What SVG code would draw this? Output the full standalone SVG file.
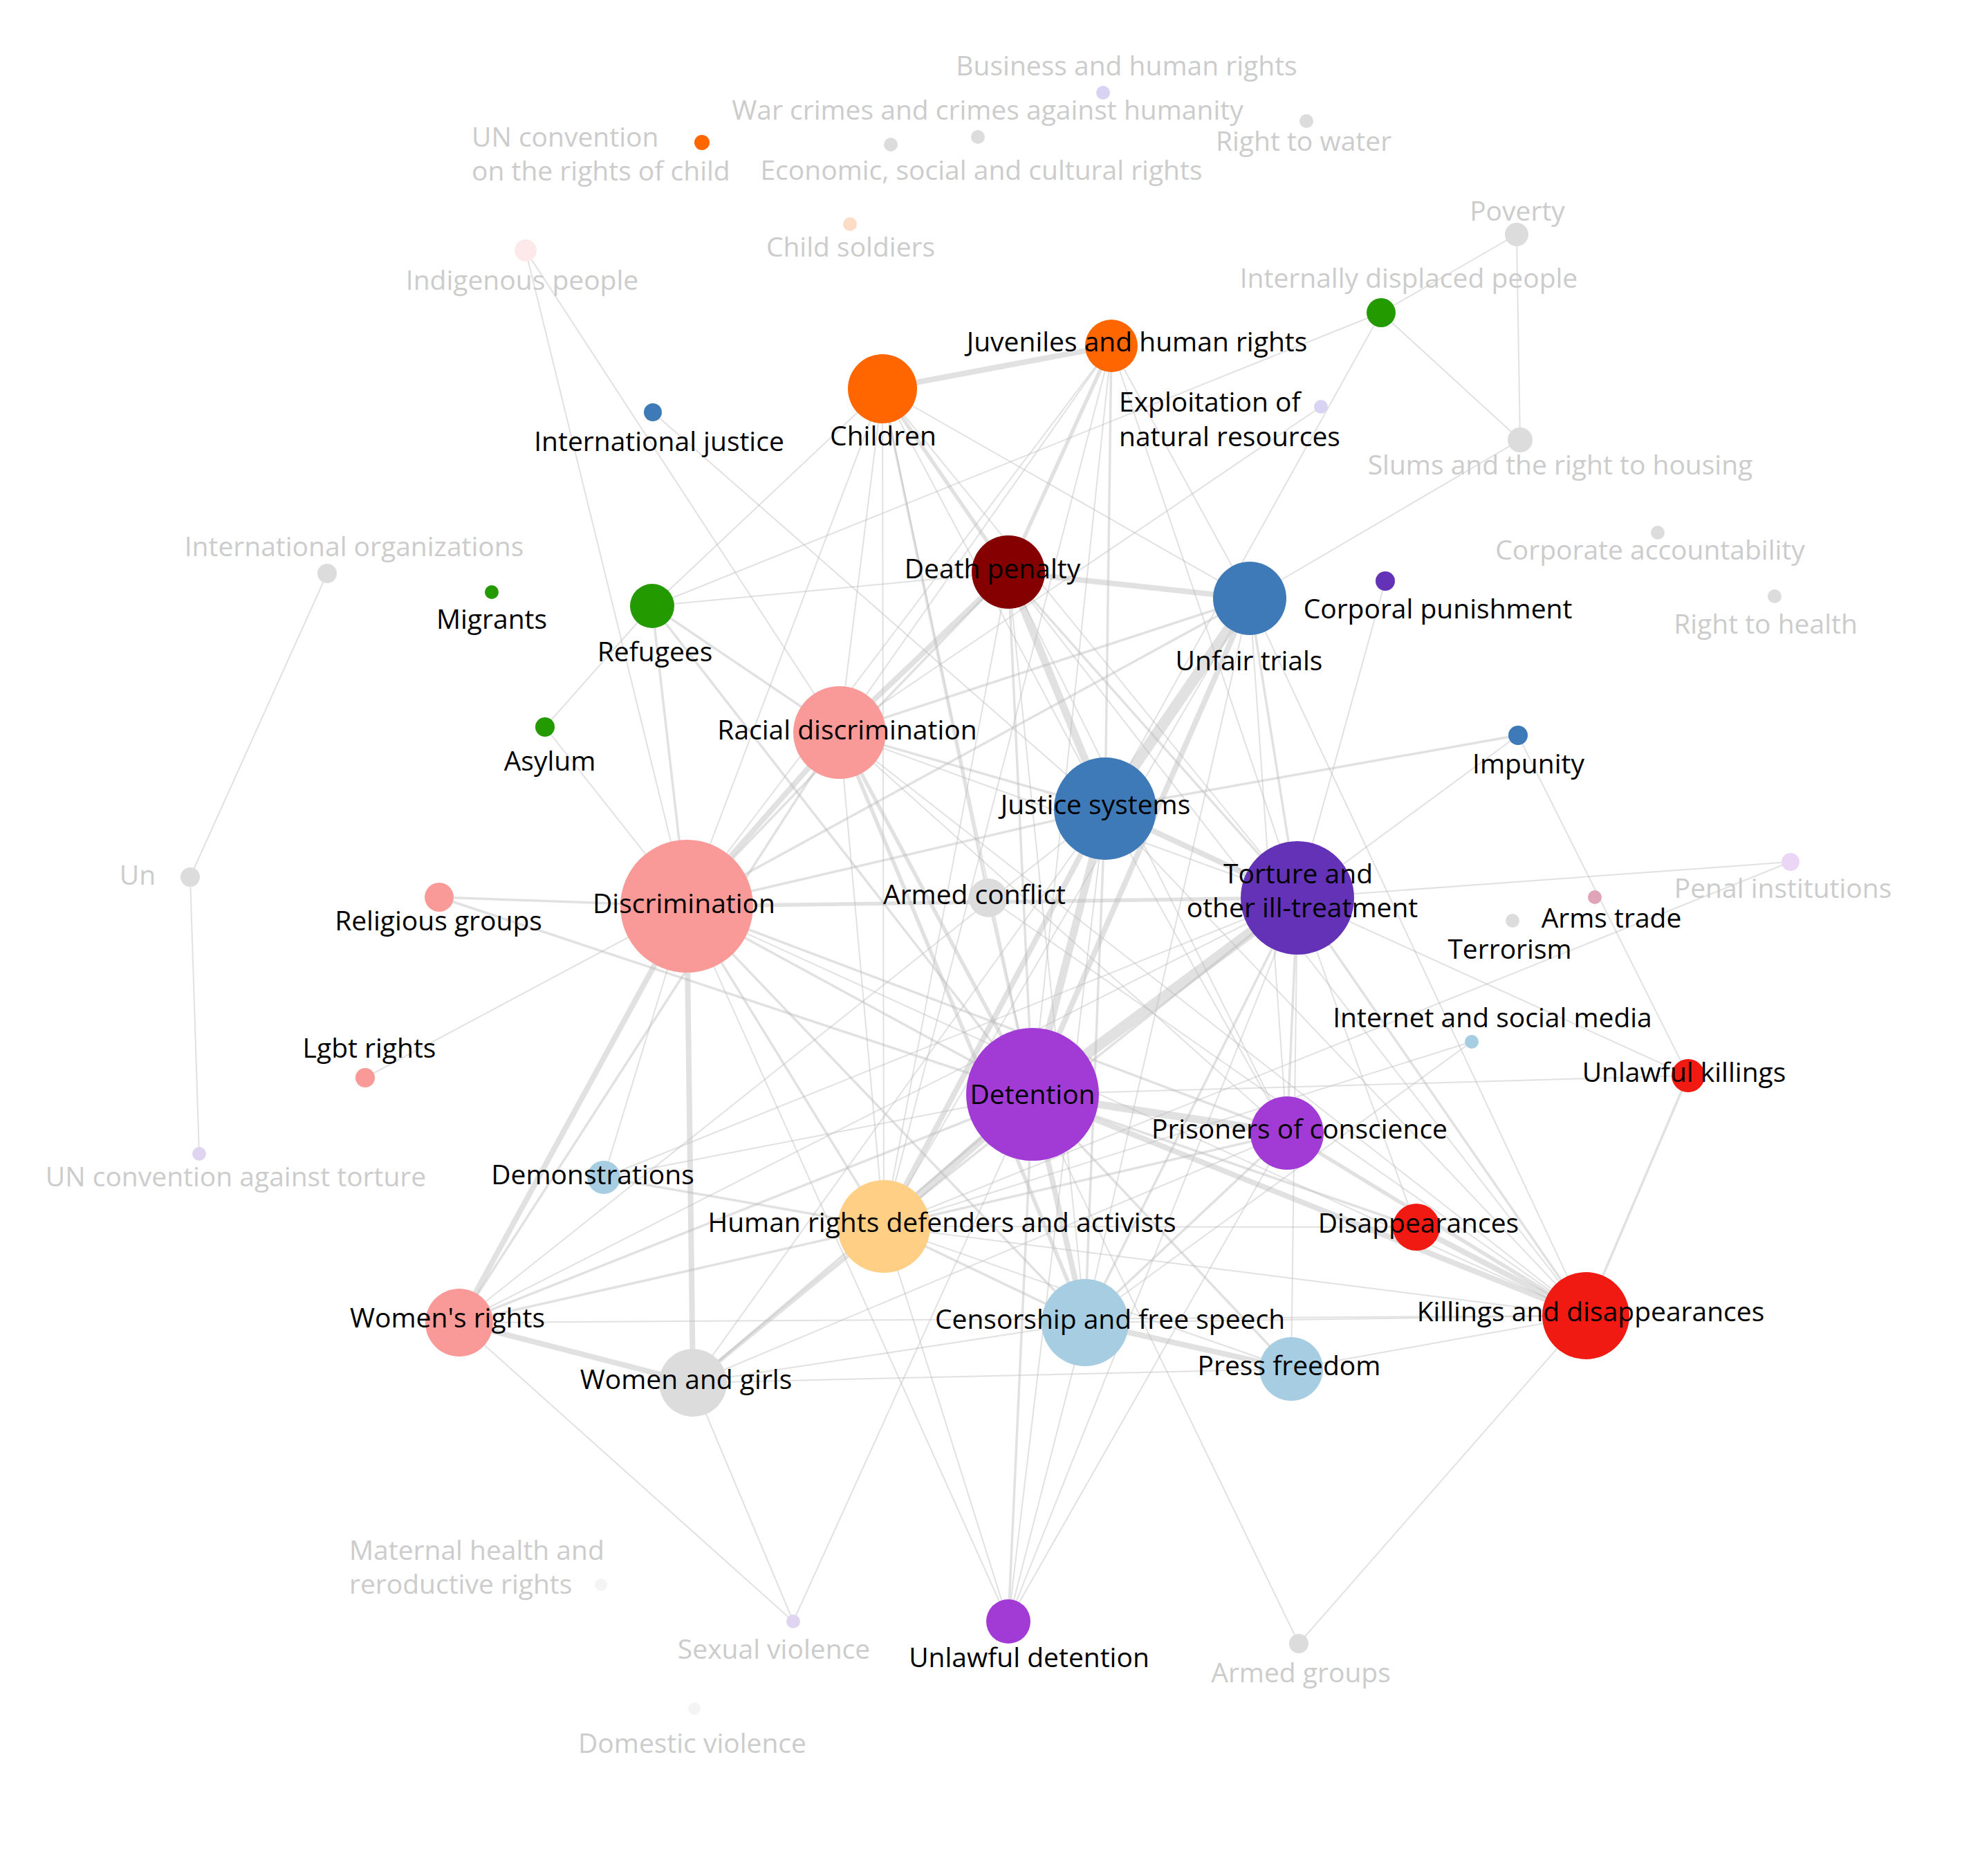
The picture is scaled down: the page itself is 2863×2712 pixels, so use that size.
<svg xmlns="http://www.w3.org/2000/svg" width="2863" height="2712" viewBox="0 0 2863 2712">
<style>
text{font-family:"Open Sans","Noto Sans",sans-serif;font-size:39px;text-anchor:middle}
.k{fill:#000}
.g{fill:#cccccc}
.s{text-anchor:start}
#edges line{stroke:#bdbdbd;stroke-opacity:.45;stroke-linecap:butt}
.e1{stroke-width:2}
.e2{stroke-width:3.5}
.e3{stroke-width:5.5}
.e4{stroke-width:8}
.e5{stroke-width:11}
.e6{stroke-width:16}
</style>
<rect width="2863" height="2712" fill="#fff"/>
<g id="edges">
<line class="e6" x1="1876" y1="1298" x2="1493" y2="1582"/>
<line class="e6" x1="1807" y1="865" x2="1598" y2="1169"/>
<line class="e5" x1="1278" y1="1773" x2="1493" y2="1582"/>
<line class="e5" x1="1598" y1="1169" x2="1493" y2="1582"/>
<line class="e5" x1="1458" y1="827" x2="1598" y2="1169"/>
<line class="e5" x1="1493" y1="1582" x2="1861" y2="1638"/>
<line class="e4" x1="1458" y1="827" x2="1807" y2="865"/>
<line class="e4" x1="1458" y1="827" x2="1214" y2="1059"/>
<line class="e4" x1="1276" y1="562" x2="1607" y2="500"/>
<line class="e4" x1="1493" y1="1582" x2="1569" y2="1912"/>
<line class="e4" x1="1493" y1="1582" x2="2293" y2="1902"/>
<line class="e4" x1="1807" y1="865" x2="1493" y2="1582"/>
<line class="e4" x1="1598" y1="1169" x2="1876" y2="1298"/>
<line class="e4" x1="993" y1="1310" x2="1214" y2="1059"/>
<line class="e4" x1="993" y1="1310" x2="664" y2="1912"/>
<line class="e4" x1="993" y1="1310" x2="1002" y2="1999"/>
<line class="e4" x1="664" y1="1912" x2="1002" y2="1999"/>
<line class="e4" x1="1278" y1="1773" x2="1598" y2="1169"/>
<line class="e4" x1="1569" y1="1912" x2="1867" y2="1979"/>
<line class="e4" x1="2293" y1="1902" x2="2048" y2="1774"/>
<line class="e3" x1="1607" y1="500" x2="1458" y2="827"/>
<line class="e3" x1="993" y1="1310" x2="1876" y2="1298"/>
<line class="e3" x1="1278" y1="1773" x2="1002" y2="1999"/>
<line class="e3" x1="1861" y1="1638" x2="2293" y2="1902"/>
<line class="e3" x1="1214" y1="1059" x2="1569" y2="1912"/>
<line class="e3" x1="1214" y1="1059" x2="1493" y2="1582"/>
<line class="e3" x1="1276" y1="562" x2="1458" y2="827"/>
<line class="e2" x1="1276" y1="562" x2="1429" y2="1298"/>
<line class="e2" x1="1607" y1="500" x2="1598" y2="1169"/>
<line class="e2" x1="943" y1="876" x2="993" y2="1310"/>
<line class="e2" x1="943" y1="876" x2="1214" y2="1059"/>
<line class="e2" x1="943" y1="876" x2="1493" y2="1582"/>
<line class="e2" x1="635" y1="1297" x2="993" y2="1310"/>
<line class="e2" x1="635" y1="1297" x2="1493" y2="1582"/>
<line class="e2" x1="664" y1="1912" x2="1278" y2="1773"/>
<line class="e2" x1="664" y1="1912" x2="1493" y2="1582"/>
<line class="e2" x1="664" y1="1912" x2="1214" y2="1059"/>
<line class="e2" x1="1429" y1="1298" x2="1493" y2="1582"/>
<line class="e2" x1="1493" y1="1582" x2="1458" y2="2344"/>
<line class="e2" x1="2293" y1="1902" x2="2441" y2="1555"/>
<line class="e2" x1="2195" y1="1063" x2="1598" y2="1169"/>
<line class="e2" x1="1807" y1="865" x2="1876" y2="1298"/>
<line class="e2" x1="1807" y1="865" x2="1214" y2="1059"/>
<line class="e2" x1="993" y1="1310" x2="1493" y2="1582"/>
<line class="e2" x1="993" y1="1310" x2="1278" y2="1773"/>
<line class="e2" x1="993" y1="1310" x2="1598" y2="1169"/>
<line class="e2" x1="993" y1="1310" x2="1569" y2="1912"/>
<line class="e2" x1="993" y1="1310" x2="1861" y2="1638"/>
<line class="e2" x1="993" y1="1310" x2="1458" y2="827"/>
<line class="e2" x1="993" y1="1310" x2="1807" y2="865"/>
<line class="e2" x1="1598" y1="1169" x2="1569" y2="1912"/>
<line class="e2" x1="1598" y1="1169" x2="1214" y2="1059"/>
<line class="e2" x1="1876" y1="1298" x2="1569" y2="1912"/>
<line class="e2" x1="1876" y1="1298" x2="1278" y2="1773"/>
<line class="e2" x1="1876" y1="1298" x2="1861" y2="1638"/>
<line class="e2" x1="1876" y1="1298" x2="2293" y2="1902"/>
<line class="e2" x1="1861" y1="1638" x2="1569" y2="1912"/>
<line class="e2" x1="1861" y1="1638" x2="1278" y2="1773"/>
<line class="e2" x1="1278" y1="1773" x2="1569" y2="1912"/>
<line class="e2" x1="1458" y1="827" x2="1493" y2="1582"/>
<line class="e2" x1="1458" y1="827" x2="1876" y2="1298"/>
<line class="e2" x1="2048" y1="1774" x2="1493" y2="1582"/>
<line class="e2" x1="1867" y1="1979" x2="1493" y2="1582"/>
<line class="e2" x1="873" y1="1702" x2="1278" y2="1773"/>
<line class="e2" x1="1002" y1="1999" x2="1493" y2="1582"/>
<line class="e1" x1="473" y1="829" x2="275" y2="1268"/>
<line class="e1" x1="275" y1="1268" x2="288" y2="1668"/>
<line class="e1" x1="760" y1="362" x2="993" y2="1310"/>
<line class="e1" x1="760" y1="362" x2="1214" y2="1059"/>
<line class="e1" x1="944" y1="596" x2="1598" y2="1169"/>
<line class="e1" x1="943" y1="876" x2="1458" y2="827"/>
<line class="e1" x1="943" y1="876" x2="1276" y2="562"/>
<line class="e1" x1="943" y1="876" x2="788" y2="1051"/>
<line class="e1" x1="788" y1="1051" x2="993" y2="1310"/>
<line class="e1" x1="528" y1="1558" x2="993" y2="1310"/>
<line class="e1" x1="664" y1="1912" x2="2293" y2="1902"/>
<line class="e1" x1="664" y1="1912" x2="1147" y2="2344"/>
<line class="e1" x1="1002" y1="1999" x2="1147" y2="2344"/>
<line class="e1" x1="1147" y1="2344" x2="1493" y2="1582"/>
<line class="e1" x1="1458" y1="2344" x2="993" y2="1310"/>
<line class="e1" x1="1458" y1="2344" x2="1278" y2="1773"/>
<line class="e1" x1="1458" y1="2344" x2="1569" y2="1912"/>
<line class="e1" x1="1458" y1="2344" x2="1876" y2="1298"/>
<line class="e1" x1="1458" y1="2344" x2="1861" y2="1638"/>
<line class="e1" x1="1458" y1="2344" x2="1598" y2="1169"/>
<line class="e1" x1="1878" y1="2376" x2="2293" y2="1902"/>
<line class="e1" x1="1878" y1="2376" x2="1493" y2="1582"/>
<line class="e1" x1="1276" y1="562" x2="993" y2="1310"/>
<line class="e1" x1="1276" y1="562" x2="1214" y2="1059"/>
<line class="e1" x1="1276" y1="562" x2="1278" y2="1773"/>
<line class="e1" x1="1276" y1="562" x2="1807" y2="865"/>
<line class="e1" x1="1276" y1="562" x2="1876" y2="1298"/>
<line class="e1" x1="1276" y1="562" x2="1493" y2="1582"/>
<line class="e1" x1="1276" y1="562" x2="1598" y2="1169"/>
<line class="e1" x1="1607" y1="500" x2="1807" y2="865"/>
<line class="e1" x1="1607" y1="500" x2="1876" y2="1298"/>
<line class="e1" x1="1607" y1="500" x2="1214" y2="1059"/>
<line class="e1" x1="1607" y1="500" x2="993" y2="1310"/>
<line class="e1" x1="1607" y1="500" x2="1493" y2="1582"/>
<line class="e1" x1="1607" y1="500" x2="1278" y2="1773"/>
<line class="e1" x1="1458" y1="827" x2="1278" y2="1773"/>
<line class="e1" x1="1458" y1="827" x2="1861" y2="1638"/>
<line class="e1" x1="1458" y1="827" x2="2293" y2="1902"/>
<line class="e1" x1="1458" y1="827" x2="1569" y2="1912"/>
<line class="e1" x1="1807" y1="865" x2="1278" y2="1773"/>
<line class="e1" x1="1807" y1="865" x2="1861" y2="1638"/>
<line class="e1" x1="1807" y1="865" x2="2293" y2="1902"/>
<line class="e1" x1="1807" y1="865" x2="1569" y2="1912"/>
<line class="e1" x1="1807" y1="865" x2="2198" y2="636"/>
<line class="e1" x1="1997" y1="452" x2="2193" y2="339"/>
<line class="e1" x1="1997" y1="452" x2="2198" y2="636"/>
<line class="e1" x1="2193" y1="339" x2="2198" y2="636"/>
<line class="e1" x1="1997" y1="452" x2="943" y2="876"/>
<line class="e1" x1="1997" y1="452" x2="1598" y2="1169"/>
<line class="e1" x1="1910" y1="588" x2="1214" y2="1059"/>
<line class="e1" x1="2003" y1="840" x2="1876" y2="1298"/>
<line class="e1" x1="2195" y1="1063" x2="2441" y2="1555"/>
<line class="e1" x1="2195" y1="1063" x2="1876" y2="1298"/>
<line class="e1" x1="2589" y1="1246" x2="1876" y2="1298"/>
<line class="e1" x1="2589" y1="1246" x2="1278" y2="1773"/>
<line class="e1" x1="2128" y1="1506" x2="1569" y2="1912"/>
<line class="e1" x1="2128" y1="1506" x2="1278" y2="1773"/>
<line class="e1" x1="2441" y1="1555" x2="1876" y2="1298"/>
<line class="e1" x1="2441" y1="1555" x2="1493" y2="1582"/>
<line class="e1" x1="2293" y1="1902" x2="1598" y2="1169"/>
<line class="e1" x1="2293" y1="1902" x2="1278" y2="1773"/>
<line class="e1" x1="2293" y1="1902" x2="1569" y2="1912"/>
<line class="e1" x1="2293" y1="1902" x2="1867" y2="1979"/>
<line class="e1" x1="2048" y1="1774" x2="1278" y2="1773"/>
<line class="e1" x1="2048" y1="1774" x2="1876" y2="1298"/>
<line class="e1" x1="1876" y1="1298" x2="1867" y2="1979"/>
<line class="e1" x1="1861" y1="1638" x2="1598" y2="1169"/>
<line class="e1" x1="1861" y1="1638" x2="1002" y2="1999"/>
<line class="e1" x1="1598" y1="1169" x2="1002" y2="1999"/>
<line class="e1" x1="1214" y1="1059" x2="1278" y2="1773"/>
<line class="e1" x1="1876" y1="1298" x2="664" y2="1912"/>
<line class="e1" x1="1876" y1="1298" x2="1214" y2="1059"/>
<line class="e1" x1="873" y1="1702" x2="1493" y2="1582"/>
<line class="e1" x1="873" y1="1702" x2="1876" y2="1298"/>
<line class="e1" x1="873" y1="1702" x2="993" y2="1310"/>
<line class="e1" x1="1429" y1="1298" x2="2293" y2="1902"/>
<line class="e1" x1="1002" y1="1999" x2="1867" y2="1979"/>
<line class="e1" x1="664" y1="1912" x2="1598" y2="1169"/>
<line class="e1" x1="1569" y1="1912" x2="1002" y2="1999"/>
<line class="e1" x1="1867" y1="1979" x2="1278" y2="1773"/>
<line class="e1" x1="1214" y1="1059" x2="1861" y2="1638"/>
<line class="e1" x1="1214" y1="1059" x2="2293" y2="1902"/>
<line class="e1" x1="993" y1="1310" x2="2293" y2="1902"/>
</g>
<g id="n-business"><circle cx="1595" cy="134" r="10" fill="#d9d3f3"/><text class="g" x="1629" y="109">Business and human rights</text></g>
<g id="n-warcrimes"><circle cx="1414" cy="198" r="10" fill="#dcdcdc"/><text class="g" x="1428" y="173">War crimes and crimes against humanity</text></g>
<g id="n-economic"><circle cx="1288" cy="209" r="10" fill="#dcdcdc"/><text class="g" x="1419" y="260">Economic, social and cultural rights</text></g>
<g id="n-water"><circle cx="1889" cy="175" r="10" fill="#dcdcdc"/><text class="g" x="1885" y="218">Right to water</text></g>
<g id="n-uncrc"><circle cx="1015" cy="206" r="11" fill="#ff6600"/><text class="g s" x="682" y="212">UN convention</text><text class="g s" x="682" y="261">on the rights of child</text></g>
<g id="n-childsoldiers"><circle cx="1229" cy="324" r="10" fill="#fddcc6"/><text class="g" x="1230" y="371">Child soldiers</text></g>
<g id="n-indigenous"><circle cx="760" cy="362" r="16" fill="#fde9ea"/><text class="g" x="755" y="419">Indigenous people</text></g>
<g id="n-poverty"><circle cx="2193" cy="339" r="17" fill="#dcdcdc"/><text class="g" x="2194" y="319">Poverty</text></g>
<g id="n-idp"><circle cx="1997" cy="452" r="21" fill="#239a00"/><text class="g" x="2037" y="416">Internally displaced people</text></g>
<g id="n-juveniles"><circle cx="1607" cy="500" r="38" fill="#ff6600"/><text class="k" x="1644" y="508">Juveniles and human rights</text></g>
<g id="n-children"><circle cx="1276" cy="562" r="50" fill="#ff6600"/><text class="k" x="1277" y="644">Children</text></g>
<g id="n-intjustice"><circle cx="944" cy="596" r="13" fill="#3d7ab7"/><text class="k" x="953" y="652">International justice</text></g>
<g id="n-exploitation"><circle cx="1910" cy="588" r="10" fill="#d9d3f3"/><text class="k s" x="1618" y="595">Exploitation of</text><text class="k s" x="1618" y="645">natural resources</text></g>
<g id="n-slums"><circle cx="2198" cy="636" r="18" fill="#dcdcdc"/><text class="g" x="2256" y="686">Slums and the right to housing</text></g>
<g id="n-corpacc"><circle cx="2397" cy="770" r="10" fill="#dcdcdc"/><text class="g" x="2386" y="809">Corporate accountability</text></g>
<g id="n-health"><circle cx="2566" cy="862" r="10" fill="#dcdcdc"/><text class="g" x="2553" y="916">Right to health</text></g>
<g id="n-intorg"><circle cx="473" cy="829" r="14" fill="#dcdcdc"/><text class="g" x="512" y="804">International organizations</text></g>
<g id="n-migrants"><circle cx="711" cy="856" r="10" fill="#239a00"/><text class="k" x="711" y="909">Migrants</text></g>
<g id="n-refugees"><circle cx="943" cy="876" r="32" fill="#239a00"/><text class="k" x="947" y="956">Refugees</text></g>
<g id="n-death"><circle cx="1458" cy="827" r="53" fill="#850000"/><text class="k" x="1435" y="836">Death penalty</text></g>
<g id="n-unfair"><circle cx="1807" cy="865" r="53" fill="#3d7ab7"/><text class="k" x="1806" y="969">Unfair trials</text></g>
<g id="n-corporal"><circle cx="2003" cy="840" r="14" fill="#6432b7"/><text class="k" x="2079" y="894">Corporal punishment</text></g>
<g id="n-asylum"><circle cx="788" cy="1051" r="14" fill="#239a00"/><text class="k" x="795" y="1114">Asylum</text></g>
<g id="n-racial"><circle cx="1214" cy="1059" r="67" fill="#fa9a98"/><text class="k" x="1225" y="1069">Racial discrimination</text></g>
<g id="n-impunity"><circle cx="2195" cy="1063" r="14" fill="#3d7ab7"/><text class="k" x="2210" y="1118">Impunity</text></g>
<g id="n-justice"><circle cx="1598" cy="1169" r="74" fill="#3d7ab7"/><text class="k" x="1584" y="1177">Justice systems</text></g>
<g id="n-un"><circle cx="275" cy="1268" r="14" fill="#dcdcdc"/><text class="g" x="199" y="1279">Un</text></g>
<g id="n-penal"><circle cx="2589" cy="1246" r="13" fill="#ecd6f6"/><text class="g" x="2578" y="1298">Penal institutions</text></g>
<g id="n-torture"><circle cx="1876" cy="1298" r="82" fill="#6432b7"/><text class="k" x="1877" y="1277">Torture and</text><text class="k" x="1883" y="1326">other ill-treatment</text></g>
<g id="n-discrimination"><circle cx="993" cy="1310" r="96" fill="#fa9a98"/><text class="k" x="989" y="1320">Discrimination</text></g>
<g id="n-religious"><circle cx="635" cy="1297" r="21" fill="#fa9a98"/><text class="k" x="634" y="1345">Religious groups</text></g>
<g id="n-armedconflict"><circle cx="1429" cy="1298" r="28" fill="#dcdcdc"/><text class="k" x="1409" y="1307">Armed conflict</text></g>
<g id="n-armstrade"><circle cx="2306" cy="1297" r="10" fill="#e0a4b8"/><text class="k" x="2330" y="1341">Arms trade</text></g>
<g id="n-terrorism"><circle cx="2187" cy="1331" r="10" fill="#dcdcdc"/><text class="k" x="2183" y="1386">Terrorism</text></g>
<g id="n-internet"><circle cx="2128" cy="1506" r="10" fill="#a6cde2"/><text class="k" x="2158" y="1485">Internet and social media</text></g>
<g id="n-lgbt"><circle cx="528" cy="1558" r="14" fill="#fa9a98"/><text class="k" x="534" y="1529">Lgbt rights</text></g>
<g id="n-uncat"><circle cx="288" cy="1668" r="10" fill="#e0d5f0"/><text class="g" x="341" y="1715">UN convention against torture</text></g>
<g id="n-unlawfulkillings"><circle cx="2441" cy="1555" r="24" fill="#f11a12"/><text class="k" x="2435" y="1564">Unlawful killings</text></g>
<g id="n-detention"><circle cx="1493" cy="1582" r="96" fill="#a23bd5"/><text class="k" x="1493" y="1596">Detention</text></g>
<g id="n-prisoners"><circle cx="1861" cy="1638" r="53" fill="#a23bd5"/><text class="k" x="1879" y="1646">Prisoners of conscience</text></g>
<g id="n-demonstrations"><circle cx="873" cy="1702" r="24" fill="#a6cde2"/><text class="k" x="857" y="1712">Demonstrations</text></g>
<g id="n-disappearances"><circle cx="2048" cy="1774" r="34" fill="#f11a12"/><text class="k" x="2051" y="1782">Disappearances</text></g>
<g id="n-hrd"><circle cx="1278" cy="1773" r="67" fill="#fecf85"/><text class="k" x="1362" y="1781">Human rights defenders and activists</text></g>
<g id="n-killings"><circle cx="2293" cy="1902" r="63" fill="#f11a12"/><text class="k" x="2300" y="1910">Killings and disappearances</text></g>
<g id="n-womensrights"><circle cx="664" cy="1912" r="49" fill="#fa9a98"/><text class="k" x="647" y="1919">Women's rights</text></g>
<g id="n-censorship"><circle cx="1569" cy="1912" r="63" fill="#a6cde2"/><text class="k" x="1605" y="1921">Censorship and free speech</text></g>
<g id="n-press"><circle cx="1867" cy="1979" r="46" fill="#a6cde2"/><text class="k" x="1864" y="1988">Press freedom</text></g>
<g id="n-womengirls"><circle cx="1002" cy="1999" r="49" fill="#dcdcdc"/><text class="k" x="992" y="2008">Women and girls</text></g>
<g id="n-maternal"><circle cx="869" cy="2291" r="9" fill="#f4f4f4"/><text class="g s" x="505" y="2255">Maternal health and</text><text class="g s" x="505" y="2304">reroductive rights</text></g>
<g id="n-sexual"><circle cx="1147" cy="2344" r="10" fill="#e0d5f0"/><text class="g" x="1119" y="2398">Sexual violence</text></g>
<g id="n-unlawfuldetention"><circle cx="1458" cy="2344" r="32" fill="#a23bd5"/><text class="k" x="1488" y="2410">Unlawful detention</text></g>
<g id="n-armedgroups"><circle cx="1878" cy="2376" r="14" fill="#dcdcdc"/><text class="g" x="1881" y="2432">Armed groups</text></g>
<g id="n-domestic"><circle cx="1004" cy="2470" r="9" fill="#f4f4f4"/><text class="g" x="1001" y="2534">Domestic violence</text></g>
</svg>
